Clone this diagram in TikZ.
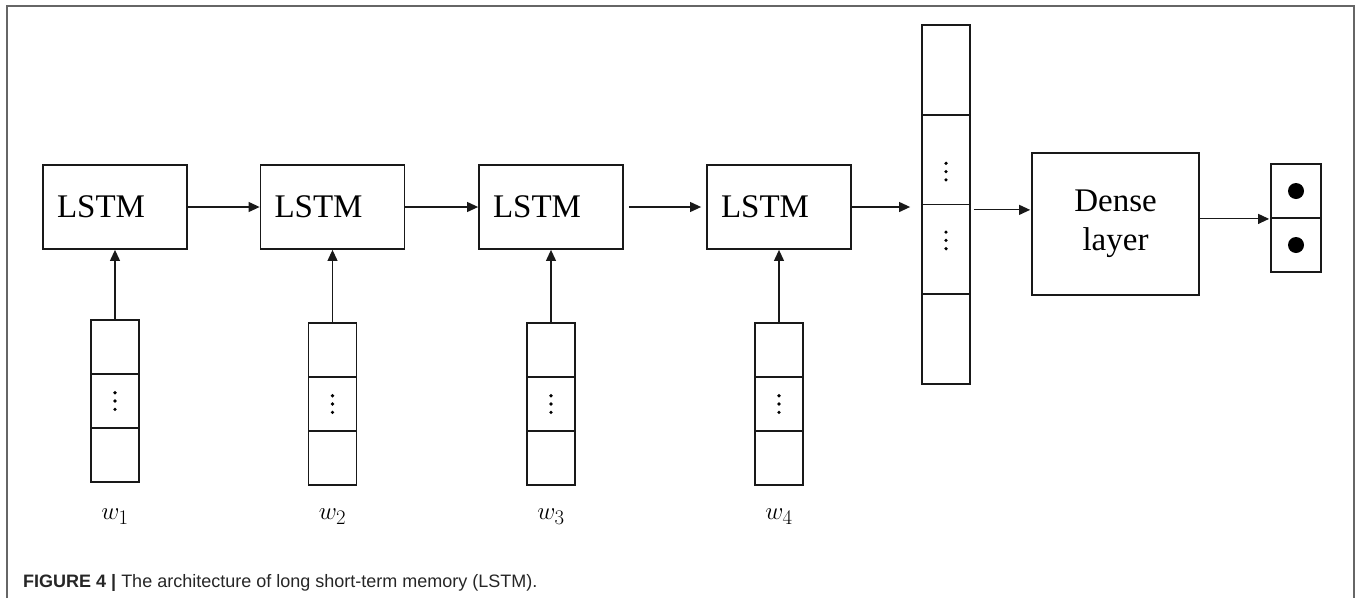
\documentclass[tikz,border=0pt]{standalone}
\usepackage{fontspec}
\setmainfont{Liberation Serif}
\newfontfamily\capfont{Liberation Sans}
\usetikzlibrary{arrows.meta}
\begin{document}
\begin{tikzpicture}[x=1pt,y=-1pt,
  box/.style={draw=black!90, line width=1.8pt, inner sep=0pt},
  lstm/.style={box, minimum width=144pt, minimum height=84pt, text width=116pt, inner xsep=14pt, align=left, font=\fontsize{33}{36}\selectfont},
  cell/.style={box, minimum width=48pt, minimum height=54pt},
  bigcell/.style={box, minimum width=48pt, minimum height=89.75pt},
  dotsat/.style={path picture={\fill ([yshift=#1]path picture bounding box.center) ++(0,-8.3) circle (1.8pt) ++(0,8.3) circle (1.8pt) ++(0,8.3) circle (1.8pt);}},
  odot/.style={path picture={\fill (path picture bounding box.center) circle (8pt);}},
  wlab/.style={inner sep=0pt, font=\fontsize{30}{32}\selectfont},
  conn/.style={draw=black!90, line width=1.1pt, -{Triangle[length=11pt,width=10pt]}},
  frame/.style={draw=black!60, line width=1.5pt}
]
\useasboundingbox (0,0) rectangle (1358,598);
\draw[frame] (7,598) -- (7,6) -- (1354,6) -- (1354,598);

% LSTM cells
\node[lstm] (L1) at (115,207) {LSTM};
\node[lstm] (L2) at (332.5,207) {LSTM};
\node[lstm] (L3) at (551,207) {LSTM};
\node[lstm] (L4) at (779,207) {LSTM};

% input vectors
\node[cell] (a1) at (115,347) {};
\node[cell,dotsat=0pt] (b1) at (115,401) {};
\node[cell] (c1) at (115,455) {};
\node[cell] (a2) at (332.5,350) {};
\node[cell,dotsat=0pt] (b2) at (332.5,404) {};
\node[cell] (c2) at (332.5,458) {};
\node[cell] (a3) at (551,350) {};
\node[cell,dotsat=0pt] (b3) at (551,404) {};
\node[cell] (c3) at (551,458) {};
\node[cell] (a4) at (779,350) {};
\node[cell,dotsat=0pt] (b4) at (779,404) {};
\node[cell] (c4) at (779,458) {};

\node[wlab] (t1) at (115,517) {$w_1$};
\node[wlab] (t2) at (332.5,517) {$w_2$};
\node[wlab] (t3) at (551,517) {$w_3$};
\node[wlab] (t4) at (779,517) {$w_4$};

% hidden vector
\node[bigcell] (h1) at (946,69.9) {};
\node[bigcell,dotsat=-12pt] (h2) at (946,159.6) {};
\node[bigcell,dotsat=9pt] (h3) at (946,249.4) {};
\node[bigcell] (h4) at (946,339.1) {};

% dense layer
\node[box, minimum width=167pt, minimum height=142pt, align=center, font=\fontsize{33}{39}\selectfont] (D) at (1115.5,224) {Dense\\layer};

% output
\node[cell, minimum width=50pt, odot] (o1) at (1296,191) {};
\node[cell, minimum width=50pt, odot] (o2) at (1296,245) {};

% connectors
\draw[conn] (L1) -- (L2);
\draw[conn] (L2) -- (L3);
\draw[conn, shorten <=5pt, shorten >=5pt] (L3) -- (L4);
\draw[conn, shorten >=11pt] (L4.east) -- (L4.east -| h2.west);
\draw[conn, shorten <=3pt, shorten >=1pt] ([yshift=-4.5pt]h2.south east) -- ([yshift=-4.5pt]h2.south east -| D.west);
\draw[conn, shorten >=1pt] (D.east |- o1.south) -- (o1.south west);
\draw[conn] (a1.north) -- (L1.south);
\draw[conn] (a2.north) -- (L2.south);
\draw[conn] (a3.north) -- (L3.south);
\draw[conn] (a4.north) -- (L4.south);

% caption
\node[anchor=base west, inner sep=0pt, text=black!85, font=\capfont\fontsize{18}{20}\selectfont] (cap) at (23,587) {\textbf{FIGURE 4 |} The architecture of long short-term memory (LSTM).};
\end{tikzpicture}
\end{document}
